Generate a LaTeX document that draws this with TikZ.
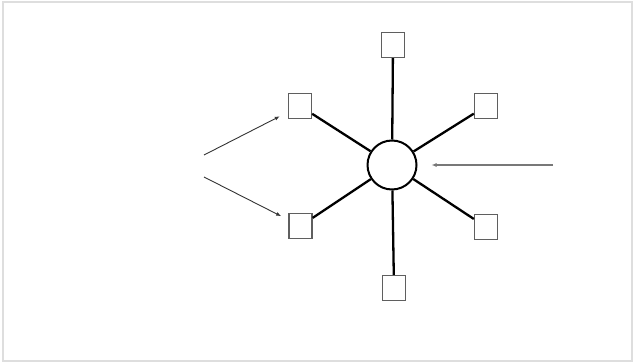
\documentclass[tikz,border=0pt]{standalone}
\usetikzlibrary{arrows.meta,positioning}
\definecolor{frame}{RGB}{222,222,222}
\definecolor{boxline}{RGB}{95,95,95}
\definecolor{pointer}{RGB}{120,120,120}

\begin{document}
\begin{tikzpicture}[x=1pt,y=-1pt,
    hub/.style={circle,draw=black,line width=2pt,minimum size=49pt,inner sep=0pt},
    leaf/.style={rectangle,draw=boxline,line width=1.4pt,fill=white,minimum width=23pt,minimum height=25pt,inner sep=0pt},
    spoke/.style={line width=2.3pt,black},
    pointy/.style={-{Latex[length=5pt,width=4pt]},line width=0.9pt}]
        \useasboundingbox (0,0) rectangle (636,363);
        \draw[frame,line width=1.6pt] (3,2) rectangle (632,361);
        % the star
        \node[hub] (hub) at (392,165) {};
        \node[leaf] (top) at (393,45) {};
        \node[leaf] (tr) at (486,106) {};
        \node[leaf] (br) at (486,227) {};
        \node[leaf] (bot) at (394,288) {};
        \node[leaf] (tl) at (300,106) {};
        \node[leaf] (bl) at (300.5,226) {};
        \foreach \n in {top,tr,br,bot,tl,bl}{
          \draw[spoke] (hub) -- (\n);
        }
        % incoming arrows
        \coordinate (in1) at (204,155);
        \coordinate (in2) at (204,177);
        \coordinate (in3) at (553,165);
        \draw[pointy,black!80,shorten >=9pt] (in1) -- (tl);
        \draw[pointy,black!80,shorten >=8pt] (in2) -- (bl);
        \draw[pointy,pointer,line width=1.1pt,shorten >=14pt] (in3) -- (hub);
      \end{tikzpicture}
\end{document}
